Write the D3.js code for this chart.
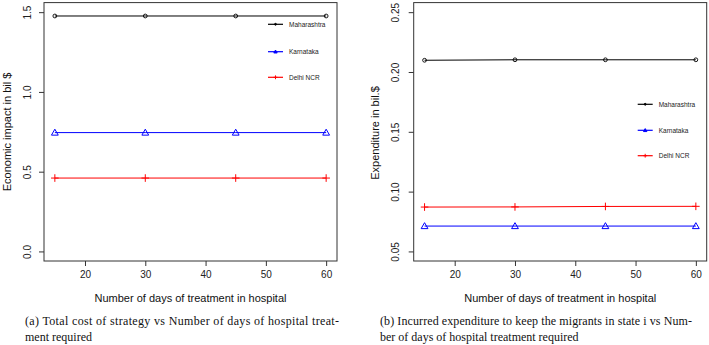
<!DOCTYPE html>
<html>
<head>
<meta charset="utf-8">
<script src="https://cdn.jsdelivr.net/npm/d3@7"></script>
<style>
  body { margin: 0; background: #fff; }
  text { font-family: "Liberation Sans", Arial, sans-serif; }
  .caption { font-family: "Liberation Serif", "Times New Roman", serif; font-size: 12px; fill: #111; }
</style>
</head>
<body>
<script>
var width = 709, height = 345;

// shared x values (days)
var days = [15, 30, 45, 60];
var xTicks = [20, 30, 40, 50, 60];
var states = ["Maharashtra", "Karnataka", "Delhi NCR"];

// (a) economic impact, bil $
var costMaha = [1.476, 1.476, 1.476, 1.476];
var costKarn = [0.745, 0.745, 0.745, 0.745];
var costDelhi = [0.460, 0.460, 0.460, 0.460];
var costTicks = [0, 0.5, 1.0, 1.5];
var costTickLabels = ["0.0", "0.5", "1.0", "1.5"];

// (b) expenditure, bil $
var expMaha = [0.2098, 0.2102, 0.2102, 0.2102];
var expKarn = [0.0712, 0.0712, 0.0712, 0.0712];
var expDelhi = [0.0871, 0.0872, 0.0876, 0.0877];
var expTicks = [0.05, 0.10, 0.15, 0.20, 0.25];
var expTickLabels = ["0.05", "0.10", "0.15", "0.20", "0.25"];

var colors = ["#000000", "#0000ff", "#ff0000"];
var shapes = ["circle", "triangle", "plus"];

var svg = d3.select("body").append("svg")
    .attr("width", width)
    .attr("height", height);

function marker(g, shape, color, x, y, filled, s) {
    if (shape == "circle") {
        g.append("circle").attr("cx", x).attr("cy", y).attr("r", 1.9 * s)
            .attr("fill", filled ? color : "none").attr("stroke", color).attr("stroke-width", 0.9);
    } else if (shape == "triangle") {
        var h = 3.4 * s;
        g.append("path")
            .attr("d", "M" + x + "," + (y - h) + "L" + (x + h) + "," + (y + h * 0.75) +
                "L" + (x - h) + "," + (y + h * 0.75) + "Z")
            .attr("fill", filled ? color : "none").attr("stroke", color).attr("stroke-width", 1);
    } else {
        var p = 3.8 * s;
        g.append("path")
            .attr("d", "M" + (x - p) + "," + y + "H" + (x + p) + "M" + x + "," + (y - p) + "V" + (y + p))
            .attr("stroke", color).attr("stroke-width", 1);
    }
}

function drawPanel(o) {
    var g = svg.append("g");

    var x = d3.scaleLinear().domain([13.2, 61.8]).range([o.left, o.right]);
    var y = d3.scaleLinear().domain(o.yDomain).range([261, 2.6]);

    // x axis
    var xAxis = g.append("g")
        .attr("transform", "translate(0,261)")
        .call(d3.axisBottom(x).tickValues(xTicks).tickSize(5).tickPadding(5));
    xAxis.select(".domain").remove();
    xAxis.selectAll("line").attr("stroke", "#333");
    xAxis.selectAll("text")
        .attr("font-family", "Liberation Sans, Arial, sans-serif")
        .attr("font-size", 10).attr("fill", "#222");

    // y axis
    var yAxis = g.append("g")
        .attr("transform", "translate(" + o.left + ",0)")
        .call(d3.axisLeft(y).tickValues(o.ticks).tickSize(5)
            .tickFormat(function(d, i) { return o.tickLabels[i]; }));
    yAxis.select(".domain").remove();
    yAxis.selectAll("line").attr("stroke", "#333");
    yAxis.selectAll("text")
        .attr("font-family", "Liberation Sans, Arial, sans-serif")
        .attr("font-size", 10).attr("fill", "#222")
        .attr("text-anchor", "middle")
        .attr("x", 0).attr("dy", 0)
        .attr("transform", "translate(" + (-o.labelOff) + ",0) rotate(-90)");

    // box
    g.append("rect")
        .attr("x", o.left).attr("y", 2.6)
        .attr("width", o.right - o.left).attr("height", 261 - 2.6)
        .attr("fill", "none").attr("stroke", "#333").attr("stroke-width", 1);

    // series
    var line = d3.line().x(function(d) { return x(d[0]); }).y(function(d) { return y(d[1]); });
    o.series.forEach(function(vals, k) {
        var pts = days.map(function(d, i) { return [d, vals[i]]; });
        g.append("path").datum(pts).attr("d", line)
            .attr("fill", "none").attr("stroke", colors[k]).attr("stroke-width", 1);
        pts.forEach(function(p) {
            marker(g, shapes[k], colors[k], x(p[0]), y(p[1]), false, 1);
        });
    });

    // legend
    states.forEach(function(s, k) {
        var ly = o.legY[k];
        g.append("line").attr("x1", o.legX).attr("x2", o.legX + 15)
            .attr("y1", ly).attr("y2", ly)
            .attr("stroke", colors[k]).attr("stroke-width", 1.2);
        marker(g, shapes[k], colors[k], o.legX + 7.5, ly, true, 0.5);
        g.append("text").attr("x", o.legX + 21).attr("y", ly + 2.3)
            .attr("font-size", 6.5).attr("fill", "#222").text(s);
    });

    // axis titles
    g.append("text")
        .attr("x", (o.left + o.right) / 2).attr("y", 302)
        .attr("text-anchor", "middle").attr("font-size", 11).attr("fill", "#111")
        .text("Number of days of treatment in hospital");
    g.append("text")
        .attr("transform", "translate(" + o.titleX + "," + o.titleY + ") rotate(-90)")
        .attr("text-anchor", "middle").attr("font-size", 11).attr("fill", "#111")
        .text(o.yTitle);

    // caption
    g.append("text").attr("class", "caption")
        .attr("x", o.capX).attr("y", 325)
        .attr("textLength", o.capW).attr("lengthAdjust", "spacing")
        .text(o.cap1);
    g.append("text").attr("class", "caption")
        .attr("x", o.capX).attr("y", 341)
        .text(o.cap2);
}

drawPanel({
    left: 44, right: 337,
    yDomain: [-0.06, 1.56],
    ticks: costTicks, tickLabels: costTickLabels, labelOff: 13,
    series: [costMaha, costKarn, costDelhi],
    legX: 268, legY: [24.3, 51.7, 77.3],
    yTitle: "Economic impact in bil $", titleX: 11, titleY: 132,
    capX: 25, capW: 314,
    cap1: "(a)  Total cost of strategy vs Number of days of hospital treat-",
    cap2: "ment required"
});

drawPanel({
    left: 413.7, right: 706.7,
    yDomain: [0.042, 0.258],
    ticks: expTicks, tickLabels: expTickLabels, labelOff: 15,
    series: [expMaha, expKarn, expDelhi],
    legX: 637.7, legY: [104.3, 130.3, 155.7],
    yTitle: "Expenditure in bil.$", titleX: 379, titleY: 133,
    capX: 380, capW: 312,
    cap1: "(b)  Incurred expenditure to keep the migrants in state i vs Num-",
    cap2: "ber of days of hospital treatment required"
});
</script>
</body>
</html>
